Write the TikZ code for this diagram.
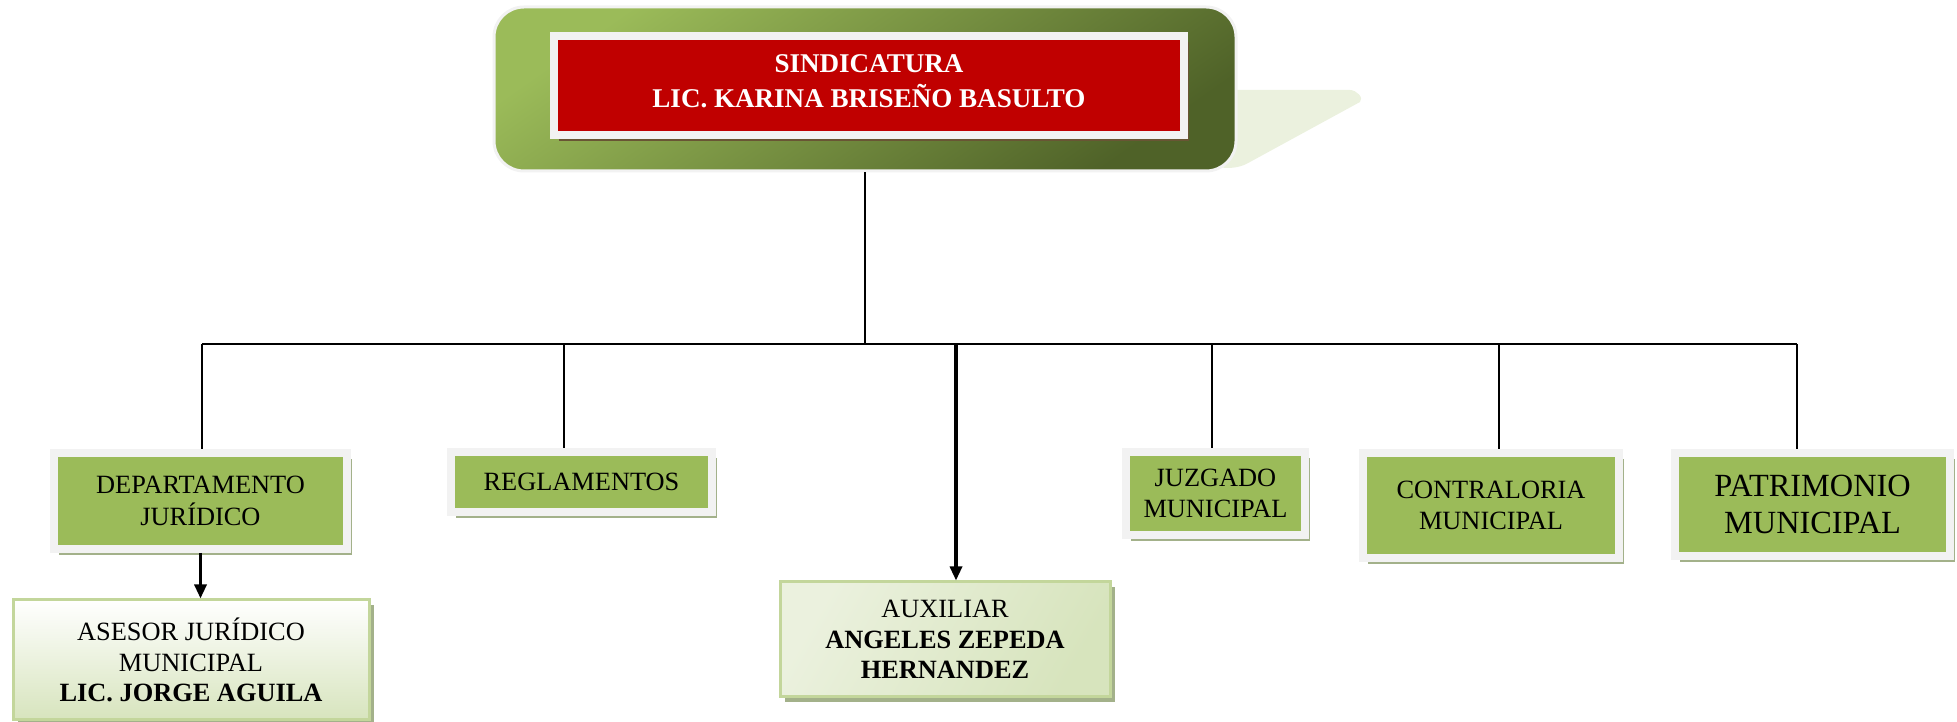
\documentclass[tikz,border=0pt]{standalone}
\usepackage{fontspec}
\setmainfont{Liberation Serif}
\usetikzlibrary{shadows,arrows.meta}
\definecolor{sindred}{RGB}{192,0,0}
\definecolor{sindgreen}{RGB}{155,187,89}
\definecolor{sinddark}{RGB}{79,98,40}
\definecolor{sindpale}{RGB}{235,241,222}
\definecolor{sindlight}{RGB}{215,228,189}
\definecolor{sindedge}{RGB}{195,214,155}
\definecolor{sindframe}{RGB}{242,242,242}
\definecolor{sindshadow}{RGB}{163,177,138}
\definecolor{sindbrown}{RGB}{105,85,52}

\begin{document}
\begin{tikzpicture}[
    area/.style={draw=sindframe, line width=0.8mm, fill=sindgreen, align=center, inner sep=0pt,
        font=\fontsize{7.5}{9}\selectfont,
        drop shadow={shadow xshift=0.5mm, shadow yshift=-0.6mm, fill=sindshadow, opacity=1}},
    titular/.style={draw=sindedge, line width=0.3mm, align=center, inner sep=0pt,
        font=\fontsize{7.5}{8.6}\selectfont,
        drop shadow={shadow xshift=0.5mm, shadow yshift=-0.5mm, fill=sindshadow, opacity=1}},
    enlace/.style={line width=0.6pt},
    flecha/.style={line width=0.9pt, -{Triangle[length=1.4mm, width=1.2mm]}}
]
    \useasboundingbox (0,0) rectangle (19.57,7.22);

    % Cola del recuadro superior
    \fill[sindpale] (12.0,6.32) -- (13.5,6.32) to[out=0,in=45] (13.6,6.2) -- (12.5,5.6)
        to[out=-150,in=0] (12.25,5.54) -- (12.0,5.6) -- cycle;

    % Sindicatura
    \node[draw=sindframe, line width=0.3mm, rounded corners=3mm, minimum width=7.42cm, minimum height=1.64cm,
        top color=sindgreen, bottom color=sinddark, shading angle=35] (marco) at (8.65,6.33) {};
    \node[draw=sindframe, line width=0.8mm, fill=sindred, minimum width=6.30cm, minimum height=0.99cm,
        align=center, text=white, font=\fontsize{7.7}{10}\selectfont\bfseries, text depth=0.09cm,
        drop shadow={shadow xshift=0.5mm, shadow yshift=-0.6mm, fill=sindbrown, opacity=1}]
        (sind) at (8.69,6.365) {SINDICATURA\\LIC. KARINA BRISEÑO BASULTO};

    % Areas
    \node[area, minimum width=2.93cm, minimum height=0.96cm] (depto) at (2.005,2.21) {DEPARTAMENTO\\JURÍDICO};
    \node[area, minimum width=2.61cm, minimum height=0.60cm] (regla) at (5.815,2.40) {REGLAMENTOS};
    \node[area, minimum width=1.79cm, minimum height=0.83cm] (juzg) at (12.155,2.285) {JUZGADO\\MUNICIPAL};
    \node[area, minimum width=2.56cm, minimum height=1.05cm] (contra) at (14.91,2.165) {CONTRALORIA\\MUNICIPAL};
    \node[area, minimum width=2.75cm, minimum height=1.03cm, font=\fontsize{9.2}{10.7}\selectfont]
        (patri) at (18.125,2.175) {PATRIMONIO\\MUNICIPAL};

    % Titulares
    \node[titular, minimum width=3.56cm, minimum height=1.20cm, top color=white, bottom color=sindlight]
        (asesor) at (1.91,0.62) {ASESOR JURÍDICO\\MUNICIPAL\\\textbf{LIC. JORGE AGUILA}};
    \node[titular, minimum width=3.30cm, minimum height=1.15cm, left color=sindpale, right color=sindlight, shading angle=60]
        (aux) at (9.45,0.825) {AUXILIAR\\\textbf{ANGELES ZEPEDA}\\\textbf{HERNANDEZ}};

    % Lineas
    \coordinate (hizq) at (2.02,3.78);
    \coordinate (hder) at (17.97,3.78);
    \coordinate (bregla) at (5.64,3.78);
    \coordinate (baux) at (9.56,3.78);
    \coordinate (bjuzg) at (12.12,3.78);
    \coordinate (bcontra) at (14.99,3.78);
    \draw[enlace] (marco.south) -- (marco.south |- hizq);
    \draw[enlace] (hizq) -- (hder);
    \draw[enlace] (hizq) -- (hizq |- depto.north);
    \draw[enlace] (bregla) -- (bregla |- regla.north);
    \draw[enlace] (bjuzg) -- (bjuzg |- juzg.north);
    \draw[enlace] (bcontra) -- (bcontra |- contra.north);
    \draw[enlace] (hder) -- (hder |- patri.north);

    % Flechas
    \draw[flecha] (baux) -- (baux |- aux.north);
    \draw[flecha] (depto.south) -- (depto.south |- asesor.north);
\end{tikzpicture}
\end{document}
